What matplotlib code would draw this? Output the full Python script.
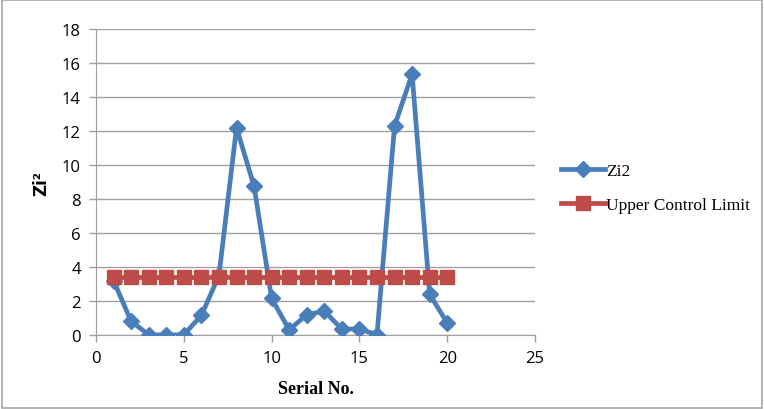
import matplotlib
matplotlib.use("Agg")
from matplotlib import pyplot as plt
from matplotlib.patches import Rectangle

# data
serial = list(range(1, 21))
zi2 = [3.2, 0.8, 0.02, 0.0, 0.02, 1.15, 3.5, 12.2, 8.75, 2.15,
       0.3, 1.2, 1.4, 0.35, 0.35, 0.02, 12.3, 15.35, 2.4, 0.7]
ucl = [3.4] * 20
yticks = list(range(0, 19, 2))
xticks = list(range(0, 26, 5))

blue = '#4A7EBB'
red = '#BE4B48'
grid = '#A0A0A0'

fig = plt.figure(figsize=(7.64, 4.10), dpi=100)
fig.patches.append(Rectangle((0.002, 0.003), 0.996, 0.994, transform=fig.transFigure,
                             fill=False, edgecolor='#A6A6A6', linewidth=1.2))
ax = fig.add_axes([0.1257, 0.1805, 0.5746, 0.7463])

ax.plot(serial, zi2, color=blue, linewidth=3.4, marker='D', markersize=8,
        label='Zi2', zorder=3)
ax.plot(serial, ucl, color=red, linewidth=3.4, marker='s', markersize=10.5,
        label='Upper Control Limit', zorder=4)

ax.set_xlim(0, 25)
ax.set_ylim(0, 18)
ax.set_xticks(xticks)
ax.set_yticks(yticks)
ax.yaxis.grid(True, color=grid, linewidth=1)
ax.set_axisbelow(True)
for s in ['top', 'right']:
    ax.spines[s].set_visible(False)
for s in ['left', 'bottom']:
    ax.spines[s].set_color(grid)
ax.tick_params(axis='both', colors=grid, length=5, width=1, labelsize=12, pad=6,
               labelcolor='black')
for lab in ax.get_xticklabels() + ax.get_yticklabels():
    lab.set_family('Open Sans')

ax.set_xlabel('Serial No.', family='Liberation Serif', fontsize=13, fontweight='bold',
              labelpad=10)
ax.set_ylabel('Zi²', family='DejaVu Sans', fontsize=12, fontweight='bold', labelpad=8)

leg = ax.legend(loc='center left', bbox_to_anchor=(1.04, 0.48), frameon=False,
                prop={'family': 'Liberation Serif', 'size': 12.5}, handlelength=2.5,
                labelspacing=1.0, handletextpad=0.1, borderpad=0)

fig.savefig('out.png', dpi=100)
